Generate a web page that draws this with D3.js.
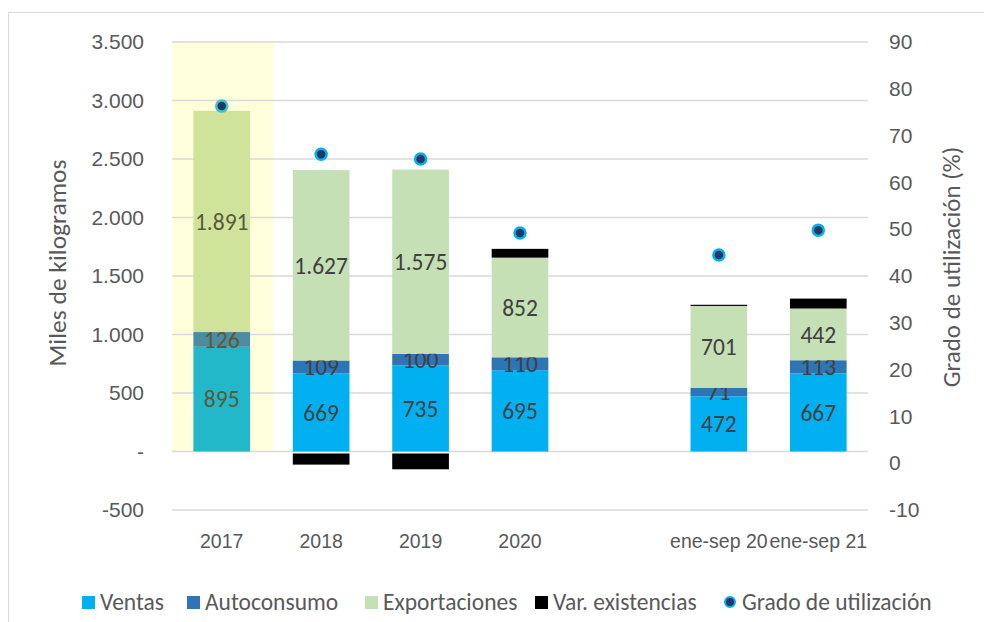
<!DOCTYPE html>
<html><head><meta charset="utf-8">
<script src="https://cdn.jsdelivr.net/npm/d3@7"></script>
<style>body{margin:0;background:#fff}svg{display:block;font-family:Calibri,Carlito,"Liberation Sans","Open Sans",sans-serif}</style>
</head><body><svg id="c" width="984" height="622"></svg>
<script>
const categories = ["2017","2018","2019","2020","","ene-sep 20","ene-sep 21"];
const ventas = [895,669,735,695,null,472,667];
const autoconsumo = [126,109,100,110,null,71,113];
const exportaciones = [1891,1627,1575,852,null,701,442];
const varExistencias = [0,-95,-135,75,null,10,85];
const grado = [76.3,66,65,49.2,null,44.5,49.8];
const leftTicks = [-500,0,500,1000,1500,2000,2500,3000,3500];
const rightTicks = [-10,0,10,20,30,40,50,60,70,80,90];

const svg = d3.select("#c");
const L=172,R=868,T=42,B=510;
const fmt = v => v===0 ? "-" : d3.format(",")(v).replace(/,/g,".").replace("\u2212","-");
const fmtR = v => String(v);
const x = d3.scaleBand().domain(categories.map((c,i)=>i)).range([L,R]).paddingInner(0.43).paddingOuter(0.215);
const xb = d3.scaleBand().domain(categories.map((c,i)=>i)).range([L,R]);
const y = d3.scaleLinear().domain([-500,3500]).range([B,T]);
const y2 = d3.scaleLinear().domain([-10,90]).range([B,T]);

svg.append("rect").attr("x",8.5).attr("y",12.5).attr("width",990).attr("height",620).attr("fill","#fff").attr("stroke","#D9D9D9");

// highlight 2017
svg.append("rect").attr("x",xb(0)).attr("y",y(3500)).attr("width",xb.bandwidth()+2).attr("height",y(0)-y(3500)).attr("fill","#FFFFDB");

// gridlines
svg.append("g").selectAll("line").data(leftTicks).join("line")
 .attr("x1",L).attr("x2",R).attr("y1",d=>y(d)).attr("y2",d=>y(d)).attr("stroke","#D9D9D9").attr("stroke-width",1.3);

// axes
const ga = svg.append("g").attr("transform",`translate(${L-28},0)`).call(d3.axisLeft(y).tickValues(leftTicks).tickFormat(fmt).tickSize(0).tickPadding(0));
ga.select(".domain").remove();
ga.selectAll("text").attr("font-size",21).attr("fill","#595959");
const gb = svg.append("g").attr("transform",`translate(${R+21},0)`).call(d3.axisRight(y2).tickValues(rightTicks).tickFormat(fmtR).tickSize(0).tickPadding(0));
gb.select(".domain").remove();
gb.selectAll("text").attr("font-size",21).attr("fill","#595959");

const gx = svg.append("g").attr("transform",`translate(0,${B+24})`).call(d3.axisBottom(xb).tickFormat(i=>categories[i]).tickSize(0).tickPadding(0));
gx.select(".domain").remove();
gx.selectAll("text").attr("font-size",19.5).attr("fill","#595959");

svg.append("text").attr("transform","translate(57,263) rotate(-90)").attr("text-anchor","middle").attr("dominant-baseline","central").attr("font-size",25.5).attr("fill","#595959").text("Miles de kilogramos");
svg.append("text").attr("transform","translate(951,267) rotate(-90)").attr("text-anchor","middle").attr("dominant-baseline","central").attr("font-size",25).attr("fill","#595959").text("Grado de utilización (%)");

const colsNormal = ["#00B0F0","#2E75B6","#C5E0B4"];
const cols2017 = ["#22B8CA","#4A8CA0","#CFE39A"];
const series=[ventas,autoconsumo,exportaciones];
const g = svg.append("g");
categories.forEach((c,i)=>{
  if(ventas[i]==null) return;
  let base=0;
  series.forEach((s,k)=>{
    const v=s[i];
    const y0=y(base), y1=y(base+v);
    g.append("rect").attr("x",x(i)).attr("width",x.bandwidth()).attr("y",y1).attr("height",y0-y1).attr("fill",(i===0?cols2017:colsNormal)[k]);
    g.append("text").attr("x",x(i)+x.bandwidth()/2).attr("y",(y0+y1)/2).attr("dy","0.35em").attr("text-anchor","middle")
     .attr("font-size",23.5).attr("fill",i===0?"#5A5A3A":"#404040").text(fmt(v));
    base+=v;
  });
  const vv=varExistencias[i];
  if(vv>0){
    g.append("rect").attr("x",x(i)).attr("width",x.bandwidth()).attr("y",y(base+vv)).attr("height",y(base)-y(base+vv)).attr("fill","#000");
  } else if(vv<0){
    g.append("rect").attr("x",x(i)).attr("width",x.bandwidth()).attr("y",y(0)+2).attr("height",y(vv)-y(0)).attr("fill","#000");
  }
});
// points
svg.append("g").selectAll("circle").data(grado.map((v,i)=>({v,i})).filter(d=>d.v!=null)).join("circle")
 .attr("cx",d=>xb(d.i)+xb.bandwidth()/2).attr("cy",d=>y2(d.v)).attr("r",5.5)
 .attr("fill","#1F3864").attr("stroke",d=>d.i===0?"#3BC4D4":"#00B0F0").attr("stroke-width",2.5);

// legend
const leg=[{t:"Ventas",c:"#00B0F0",x:82},{t:"Autoconsumo",c:"#2E75B6",x:187},{t:"Exportaciones",c:"#C5E0B4",x:365},{t:"Var. existencias",c:"#000",x:535},{t:"Grado de utilización",c:"#1F3864",x:724,dot:true}];
const lg=svg.append("g");
leg.forEach(d=>{
  if(d.dot){
    lg.append("circle").attr("cx",d.x+6).attr("cy",602).attr("r",5).attr("fill",d.c).attr("stroke","#00B0F0").attr("stroke-width",2);
  } else {
    lg.append("rect").attr("x",d.x).attr("y",596).attr("width",13).attr("height",13).attr("fill",d.c);
  }
  lg.append("text").attr("x",d.x+18).attr("y",602).attr("dy","0.35em").attr("font-size",23.5).attr("fill","#595959").text(d.t);
});
</script></body></html>
